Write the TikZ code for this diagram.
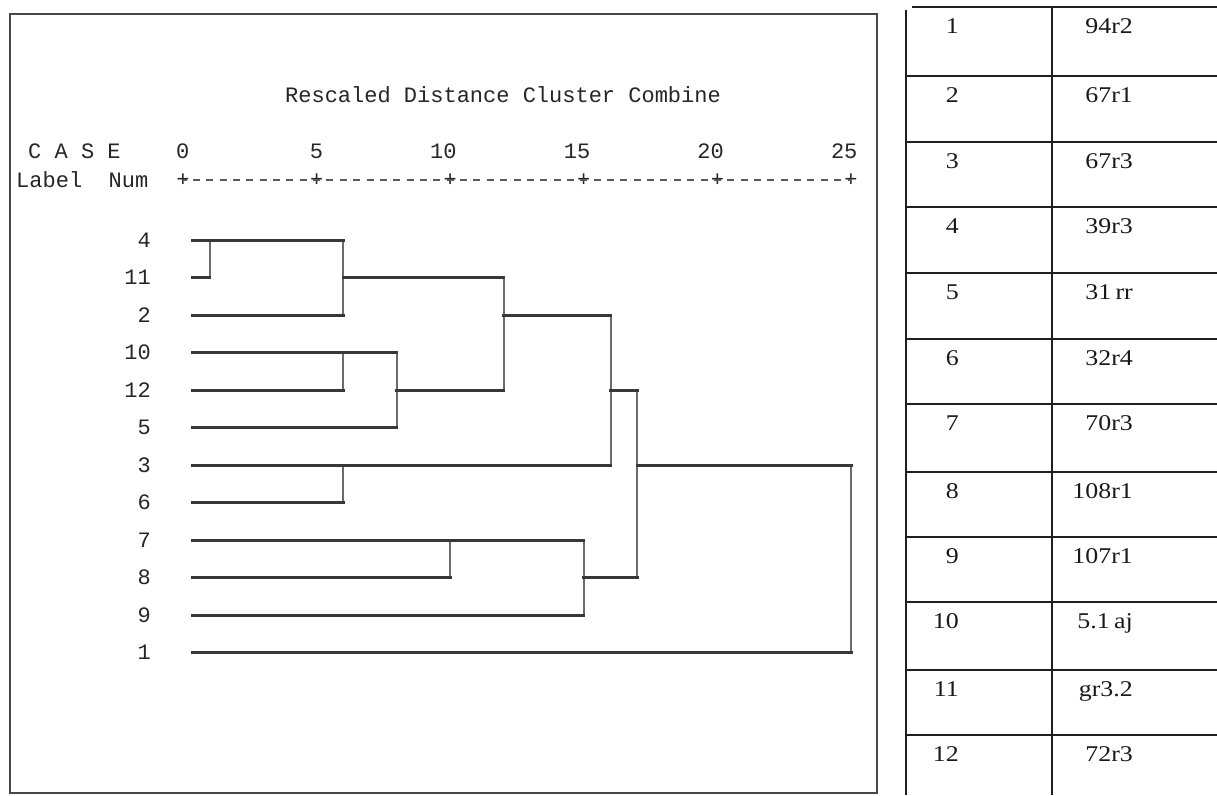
\documentclass[tikz,border=0pt]{standalone}
\usepackage{fontspec}
\setmainfont{Liberation Serif}
\setmonofont{Liberation Mono}
\begin{document}
\begin{tikzpicture}[x=1pt,y=-1pt,
  hseg/.style={line width=3pt,draw=black!78,line cap=rect},
  vseg/.style={line width=2pt,draw=black!58},
  frame/.style={line width=2pt,draw=black!72},
  rule/.style={line width=2.2pt,draw=black!88},
  mono/.style={font=\fontsize{22}{22}\selectfont\ttfamily,text=black!85,inner sep=0pt},
  leaf/.style={mono,anchor=east},
  tick/.style={mono,anchor=east},
  axisdash/.style={line width=1.6pt,draw=black!65,dash pattern=on 7pt off 6.36pt,dash phase=3.5pt},
  tabtxt/.style={font=\fontsize{22.5}{22.5}\selectfont,text=black!90,inner sep=0pt,anchor=base east},
]
\fill[white] (0,0) rectangle (1217,795);
\useasboundingbox (0,0) rectangle (1217,795);

% frame of the dendrogram
\draw[frame] (10,14) rectangle (877,793);

% headings
\node[mono] (title) at (503,95) {Rescaled Distance Cluster Combine};
\node[mono,anchor=west] (case) at (28,151) {C A S E};
\node[mono,anchor=west] (lab) at (16,180) {Label\ \ Num};

% axis
\foreach \k/\v in {0/0,1/5,2/10,3/15,4/20,5/25}{
  \node[mono] (p\k) at ({183+133.6*\k},180) {+};
  \node[tick] (t\k) at ({183+133.6*\k+6.6},151) {\v};
}
\draw[axisdash] (p0.center) -- (p5.center);

% leaves
\foreach \n/\i/\e in {4/0/6, 11/1/1, 2/2/6, 10/3/8, 12/4/6, 5/5/8, 3/6/16, 6/7/6, 7/8/15, 8/9/10, 9/10/15, 1/11/25}{
  \node[leaf] (n\n) at (151,{240+37.5*\i}) {\n};
  \coordinate (L\n) at (192,{240+37.5*\i});
  \coordinate (E\n) at ({183+26.72*\e},{240+37.5*\i});
}
\coordinate (B) at ({183+26.72*12},277.5);
\coordinate (D) at ({183+26.72*17},577.5);

% verticals
\draw[vseg] (E11) -- (E11 |- E4);
\draw[vseg] (E4) -- (E2);
\draw[vseg] (E12 |- E10) -- (E12);
\draw[vseg] (E10) -- (E5);
\draw[vseg] (B) -- (B |- E12);
\draw[vseg] (E6 |- E3) -- (E6);
\draw[vseg] (E3 |- E2) -- (E3);
\draw[vseg] (E8 |- E7) -- (E8);
\draw[vseg] (E7) -- (E9);
\draw[vseg] (D |- E12) -- (D);
\draw[vseg] (E1 |- E3) -- (E1);

% horizontals
\foreach \n in {4,11,2,10,12,5,3,6,7,8,9,1}{
  \draw[hseg] (L\n) -- (E\n);
}
\draw[hseg] (E4 |- E11) -- (B);
\draw[hseg] (E10 |- E12) -- (B |- E12);
\draw[hseg] (B |- E2) -- (E3 |- E2);
\draw[hseg] (E3 |- E12) -- (D |- E12);
\draw[hseg] (E7 |- E8) -- (D);
\draw[hseg] (D |- E3) -- (E1 |- E3);

% table
\draw[rule] (906,10) -- (906,795);
\draw[rule] (1052,7) -- (1052,795);
\draw[rule] (912,7) -- (1217,7);
\foreach \y in {76,142,207,273,339,404,472,537,602,670,735}{
  \draw[rule] (906,\y) -- (1217,\y);
}
\foreach \r/\t/\v in {1/7/94r2, 2/76/67r1, 3/142/67r3, 4/207/39r3, 5/273/31\,rr, 6/339/32r4, 7/404/70r3, 8/472/108r1, 9/537/107r1, 10/602/5.1\,aj, 11/670/gr3.2, 12/735/72r3}{
  \node[tabtxt] (k\r) at (959,{\t+26}) {\scalebox{1.15}[1]{\r}};
  \node[tabtxt] (v\r) at (1133,{\t+26}) {\scalebox{1.15}[1]{\v}};
}
\end{tikzpicture}
\end{document}
